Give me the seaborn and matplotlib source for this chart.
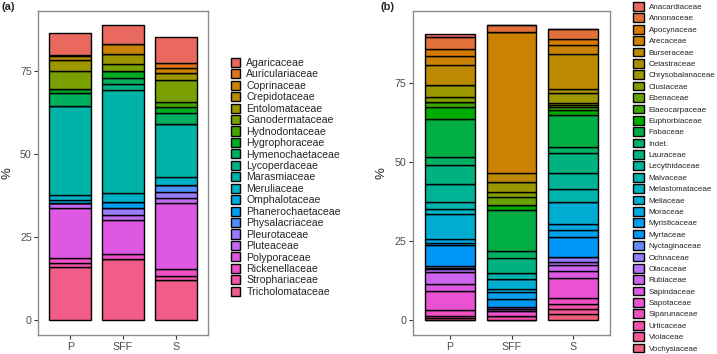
import numpy as np
import pandas as pd
import seaborn as sns
import matplotlib.pyplot as plt

sites = ["P", "SFF", "S"]

# (a) fungi, % per site
fungi = ["Agaricaceae", "Auriculariaceae", "Coprinaceae", "Crepidotaceae",
         "Entolomataceae", "Ganodermataceae", "Hydnodontaceae", "Hygrophoraceae",
         "Hymenochaetaceae", "Lycoperdaceae", "Marasmiaceae", "Meruliaceae",
         "Omphalotaceae", "Phanerochaetaceae", "Physalacriaceae", "Pleurotaceae",
         "Pluteaceae", "Polyporaceae", "Rickenellaceae", "Strophariaceae",
         "Tricholomataceae"]
fungi_P = [6.6, 0, 0.5, 1.0, 3.5, 5.2, 0, 1.3, 3.9, 0, 27.0, 1.3,
           1.1, 0, 0, 0, 1.5, 14.9, 1.5, 1.3, 16.0]
fungi_SFF = [5.7, 0, 2.8, 0, 3.0, 2.3, 0, 1.9, 1.8, 1.8, 31.2, 2.6,
             0, 2.0, 0, 1.9, 1.5, 10.2, 1.6, 0, 18.5]
fungi_S = [7.8, 1.5, 1.4, 0, 2.3, 6.5, 1.7, 1.8, 3.2, 0, 16.0, 2.5,
           0, 0, 2.1, 1.8, 1.4, 19.8, 2.2, 1.3, 12.0]

# (b) trees, % per site
trees = ["Anacardiaceae", "Annonaceae", "Apocynaceae", "Arecaceae", "Burseraceae",
         "Celastraceae", "Chrysobalanaceae", "Clusiaceae", "Ebenaceae",
         "Elaeocarpaceae", "Euphorbiaceae", "Fabaceae", "Indet.", "Lauraceae",
         "Lecythidaceae", "Malvaceae", "Melastomataceae", "Meliaceae", "Moraceae",
         "Myristicaceae", "Myrtaceae", "Nyctaginaceae", "Ochnaceae", "Olacaceae",
         "Rubiaceae", "Sapindaceae", "Sapotaceae", "Siparunaceae", "Urticaceae",
         "Violaceae", "Vochysiaceae"]
trees_P = [1.0, 3.8, 2.1, 2.8, 6.3, 0, 3.8, 1.6, 0, 1.8, 3.6, 11.9, 2.6, 6.1,
           5.6, 2.2, 1.8, 7.6, 1.3, 0.8, 6.7, 0.5, 0.4, 1.0, 3.7, 2.3, 5.9,
           1.7, 0.7, 0.8, 0]
trees_SFF = [0, 2.1, 0, 44.5, 2.9, 0, 3.2, 1.4, 2.5, 0, 1.7, 12.9, 2.1, 4.9,
             0, 1.9, 0, 3.2, 0.8, 2.3, 2.6, 0, 0, 0.5, 0, 0.6, 1.5,
             0, 1.5, 0, 0]
trees_S = [0, 3.2, 2.1, 2.6, 11.2, 1.2, 3.3, 0.6, 0.6, 0.9, 1.6, 10.2, 1.8, 6.3,
           5.0, 4.2, 0, 6.8, 2.1, 2.1, 6.3, 0, 1.5, 1.1, 1.8, 2.3, 6.4,
           1.8, 1.5, 1.6, 2.0]


def gg_hue(n, c=100, l=60):
    # ggplot2-style discrete palette (hcl, hues from 15 to 375)
    out = []
    Xn, Yn, Zn = 95.047, 100.0, 108.883
    un = 4 * Xn / (Xn + 15 * Yn + 3 * Zn)
    vn = 9 * Yn / (Xn + 15 * Yn + 3 * Zn)
    for h in np.linspace(15, 375, n + 1)[:-1]:
        hr = np.deg2rad(h)
        u, v = c * np.cos(hr), c * np.sin(hr)
        Y = Yn * ((l + 16) / 116) ** 3
        up = u / (13 * l) + un
        vp = v / (13 * l) + vn
        X = Y * 9 * up / (4 * vp)
        Z = Y * (12 - 3 * up - 20 * vp) / (4 * vp)
        xyz = np.array([X, Y, Z]) / 100
        m = np.array([[3.2404542, -1.5371385, -0.4985314],
                      [-0.9692660, 1.8760108, 0.0415560],
                      [0.0556434, -0.2040259, 1.0572252]])
        rgb = m @ xyz
        rgb = np.where(rgb <= 0.0031308, 12.92 * rgb, 1.055 * np.abs(rgb) ** (1 / 2.4) - 0.055)
        out.append(tuple(np.clip(rgb, 0, 1)))
    return out


def long_table(families, cols):
    rows = []
    for site, vals in zip(sites, cols):
        for fam, val in zip(families, vals):
            rows.append((site, fam, val))
    df = pd.DataFrame(rows, columns=["site", "family", "pct"])
    df["site"] = pd.Categorical(df["site"], categories=sites)
    return df


sns.set_style("white")
plt.rcParams["font.family"] = ["Liberation Sans", "DejaVu Sans"]

fig = plt.figure(figsize=(7.17, 3.54), dpi=100)
ax_a = fig.add_axes([38.4 / 717, 19 / 354, 169.2 / 717, 324.3 / 354])
ax_b = fig.add_axes([413 / 717, 19 / 354, 197 / 717, 324.3 / 354])

panels = [
    (ax_a, fungi, [fungi_P, fungi_SFF, fungi_S], 7.6, 231, 0.85, 0.95, 0.12, "(a)", 2),
    (ax_b, trees, [trees_P, trees_SFF, trees_S], 5.75, 633, 1.35, 1.3, 0.295, "(b)", 380),
]

for ax, fams, cols, fs, leg_x, hl, hh, ls, tag, tag_x in panels:
    df = long_table(fams, cols)
    sns.histplot(data=df, x="site", hue="family", weights="pct", hue_order=fams,
                 multiple="stack", discrete=True, shrink=0.8,
                 palette=gg_hue(len(fams)), alpha=1, edgecolor="black",
                 linewidth=1.0, ax=ax)
    top = df.groupby("site", observed=True)["pct"].sum().max()
    ax.set_xlim(-0.6, 2.6)
    ax.set_ylim(-0.05 * top, 1.05 * top)
    ax.set_yticks([0, 25, 50, 75])
    ax.set_xlabel("")
    ax.set_ylabel("%", fontsize=9.5, labelpad=5)
    ax.tick_params(axis="both", length=2.75, width=0.8, color="#333333",
                   labelcolor="#4D4D4D", labelsize=7.7, pad=2, left=True, bottom=True)
    for sp in ax.spines.values():
        sp.set_color("#8c8c8c")
        sp.set_linewidth(1)
    sns.move_legend(ax, "center left", bbox_to_anchor=(leg_x / 717, 0.499),
                    bbox_transform=fig.transFigure, title=None, frameon=False,
                    fontsize=fs, handlelength=hl, handleheight=hh, labelspacing=ls,
                    handletextpad=0.6, borderpad=0, borderaxespad=0)
    fig.text(tag_x / 717, 1 - 7.5 / 354, tag, fontsize=8, fontweight="bold",
             va="center", ha="left")

fig.savefig("out.png", dpi=100)
